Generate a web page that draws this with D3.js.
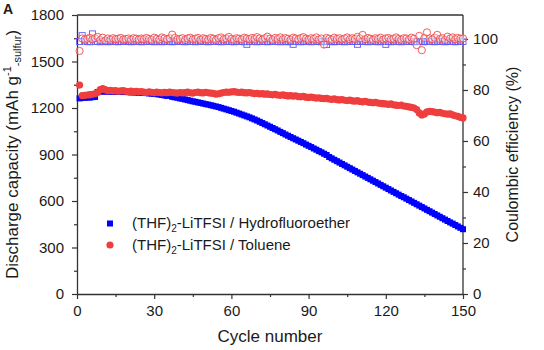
<!DOCTYPE html>
<html><head><meta charset="utf-8">
<script src="https://cdn.jsdelivr.net/npm/d3@7"></script>
<style>
body{margin:0;background:#fff;}
text{font-family:Arial,"Liberation Sans",sans-serif;fill:#1a1a1a;}
</style></head>
<body><svg id="c" width="544" height="350"></svg>
<script>
const cycles = [1,2,3,4,5,6,7,8,9,10,11,12,13,14,15,16,17,18,19,20,21,22,23,24,25,26,27,28,29,30,31,32,33,34,35,36,37,38,39,40,41,42,43,44,45,46,47,48,49,50,51,52,53,54,55,56,57,58,59,60,61,62,63,64,65,66,67,68,69,70,71,72,73,74,75,76,77,78,79,80,81,82,83,84,85,86,87,88,89,90,91,92,93,94,95,96,97,98,99,100,101,102,103,104,105,106,107,108,109,110,111,112,113,114,115,116,117,118,119,120,121,122,123,124,125,126,127,128,129,130,131,132,133,134,135,136,137,138,139,140,141,142,143,144,145,146,147,148,149,150];

const hfeCapacity = [1262,1265,1266,1268,1267,1270,1271,1303,1306,1307,
1306,1305,1306,1305,1304,1305,1304,1303,1303,1302,
1301,1301,1300,1299,1298,1297,1296,1294,1293,1291,
1289,1287,1284,1281,1278,1284,1272,1269,1266,1262,
1259,1255,1251,1247,1243,1240,1236,1233,1229,1225,
1222,1218,1214,1210,1206,1201,1196,1191,1186,1181,
1176,1170,1164,1158,1152,1146,1140,1133,1126,1119,
1111,1103,1095,1087,1079,1071,1063,1055,1046,1038,
1029,1021,1013,1005,997,989,981,973,964,956,
948,939,931,922,914,905,897,884,875,866,
857,848,839,830,821,812,803,794,785,776,
767,758,749,740,731,722,713,704,695,686,
677,668,659,650,641,632,624,615,606,597,
588,579,570,561,552,543,534,525,516,507,
498,489,480,471,462,454,445,436,427,418];

const tolCapacity = [1348,1280,1282,1284,1286,1288,1292,1300,1318,1325,
1318,1312,1314,1310,1312,1308,1310,1312,1308,1306,
1309,1305,1308,1304,1306,1302,1300,1304,1301,1298,
1302,1300,1297,1301,1299,1303,1300,1298,1296,1300,
1297,1299,1302,1298,1296,1300,1303,1299,1297,1301,
1298,1296,1294,1290,1292,1296,1300,1303,1301,1304,
1306,1303,1300,1302,1299,1297,1300,1296,1293,1295,
1291,1293,1289,1291,1287,1285,1288,1284,1282,1285,
1281,1278,1280,1276,1279,1274,1272,1275,1270,1268,
1271,1267,1264,1266,1262,1260,1263,1258,1256,1259,
1254,1252,1255,1250,1248,1251,1246,1244,1247,1242,
1240,1243,1238,1236,1234,1237,1232,1230,1228,1226,
1224,1226,1221,1218,1216,1219,1213,1210,1207,1204,
1200,1190,1168,1155,1162,1175,1178,1176,1173,1170,
1172,1166,1163,1160,1162,1156,1150,1146,1140,1136];

const hfeCE = [99.0,101.3,99.2,99.0,98.9,102.0,99.1,99.0,98.9,99.1,
99.0,98.9,99.1,99.0,99.0,98.9,99.1,99.0,99.2,99.0,
98.9,99.0,99.1,99.0,98.9,99.0,99.1,99.0,99.0,98.9,
99.1,99.0,98.9,99.0,99.1,99.0,98.9,99.0,99.1,99.0,
99.0,98.9,99.1,99.0,99.0,98.9,99.1,99.0,99.0,99.1,
98.9,99.0,99.0,99.1,99.0,98.9,99.0,99.1,99.0,99.0,
98.9,99.0,99.1,99.0,98.9,97.9,99.0,99.1,99.0,98.9,
99.0,99.1,99.0,98.9,99.0,99.1,99.0,99.0,98.9,99.1,
99.0,98.9,99.0,97.9,99.1,99.0,98.9,99.0,99.1,99.0,
98.9,99.0,99.1,99.0,98.9,99.0,97.8,99.1,99.0,98.9,
99.0,99.1,99.0,98.9,99.0,99.1,99.0,99.0,97.9,99.0,
99.1,99.0,98.9,99.0,99.1,99.0,98.9,99.0,99.1,97.9,
99.0,98.9,99.1,99.0,99.0,98.9,99.1,99.0,99.0,99.1,
98.9,99.0,99.1,99.0,98.9,99.0,99.1,99.0,98.9,99.0,
99.1,99.0,98.9,99.0,99.1,99.0,98.9,99.0,99.1,99.0];

const tolCE = [95.3,100.2,99.8,100.1,100.4,99.9,100.3,100.8,99.6,100.5,
99.4,100.2,99.7,100.3,99.9,100.1,100.4,99.8,100.0,100.2,
99.7,100.3,100.1,99.8,100.2,99.9,100.4,100.0,99.7,100.5,
100.1,99.8,100.6,100.2,99.9,100.3,101.7,100.4,99.8,100.0,
100.3,99.6,100.2,100.5,99.9,100.1,100.4,99.7,100.3,100.0,
99.8,100.4,100.1,99.7,100.3,100.6,99.9,100.2,100.8,100.0,
99.7,100.3,100.1,99.8,100.5,100.2,99.9,100.4,100.0,100.7,
100.2,99.8,100.3,100.9,100.1,99.7,100.4,100.0,100.6,99.9,
100.3,100.1,99.7,100.5,100.2,99.9,100.4,100.7,100.1,99.8,
100.3,100.0,100.6,99.8,100.2,97.8,100.4,100.1,99.7,100.5,
100.0,100.3,99.8,100.2,100.6,99.9,100.3,100.0,100.8,100.2,
101.6,99.9,100.4,100.1,99.7,100.3,100.0,100.5,99.8,100.2,
100.4,99.9,100.1,100.6,100.0,99.7,100.3,100.2,99.8,100.5,
100.1,97.6,101.2,95.6,100.4,102.6,100.2,99.8,100.5,101.6,
100.0,100.3,99.6,100.9,100.2,100.6,99.9,100.4,100.1,100.2];

const xTicks = [0,30,60,90,120,150];
const xMinor = [15,45,75,105,135];
const capTicks = [0,300,600,900,1200,1500,1800];
const capMinor = [150,450,750,1050,1350,1650];
const ceTicks = [0,20,40,60,80,100];
const ceMinor = [10,30,50,70,90];

const svg = d3.select("#c");
const L = 77, R = 463, T = 15, B = 294;
const x = d3.scaleLinear().domain([0,150]).range([L,R]);
const yL = d3.scaleLinear().domain([0,1800]).range([B,T]);
const yR = d3.scaleLinear().domain([0,109.4]).range([B,T]);
const fmt = d3.format("d");

const axisColor = "#333";
function styleAxis(g){
  g.select(".domain").attr("stroke",axisColor).attr("stroke-width",1.3);
  g.selectAll(".tick line").attr("stroke",axisColor).attr("stroke-width",1.2);
  g.selectAll(".tick text").style("font-size","15px").attr("fill","#1a1a1a");
}
function styleMinor(g){
  g.select(".domain").remove();
  g.selectAll("line").attr("stroke",axisColor).attr("stroke-width",1.2);
}
svg.append("line").attr("x1",L).attr("x2",R).attr("y1",T).attr("y2",T).attr("stroke",axisColor).attr("stroke-width",1.3);

const gx = svg.append("g").attr("transform",`translate(0,${B})`)
  .call(d3.axisBottom(x).tickValues(xTicks).tickFormat(fmt).tickSize(5).tickPadding(6).tickSizeOuter(0));
styleAxis(gx);
svg.append("g").attr("transform",`translate(0,${B})`)
  .call(d3.axisBottom(x).tickValues(xMinor).tickSize(3).tickFormat("").tickSizeOuter(0)).call(styleMinor);

const gl = svg.append("g").attr("transform",`translate(${L},0)`)
  .call(d3.axisLeft(yL).tickValues(capTicks).tickFormat(fmt).tickSize(5).tickPadding(8).tickSizeOuter(0));
styleAxis(gl);
svg.append("g").attr("transform",`translate(${L},0)`)
  .call(d3.axisLeft(yL).tickValues(capMinor).tickSize(3).tickFormat("").tickSizeOuter(0)).call(styleMinor);

const gr = svg.append("g").attr("transform",`translate(${R},0)`)
  .call(d3.axisRight(yR).tickValues(ceTicks).tickFormat(fmt).tickSize(5).tickPadding(5).tickSizeOuter(0));
styleAxis(gr);
gr.select(".domain").attr("d",`M0,${B}V${T}`);
svg.append("g").attr("transform",`translate(${R},0)`)
  .call(d3.axisRight(yR).tickValues(ceMinor).tickSize(3).tickFormat("").tickSizeOuter(0)).call(styleMinor);

const blue = "#0000ff", red = "#ef3e3e";
const sq = 6, rc = 3.6;

svg.append("g").selectAll("rect").data(cycles).join("rect")
  .attr("x",c=>x(c)-sq/2).attr("y",(c,i)=>yR(hfeCE[i])-sq/2)
  .attr("width",sq).attr("height",sq).attr("fill","none").attr("stroke","#5a5aff").attr("stroke-width",0.9);
svg.append("g").selectAll("circle").data(cycles).join("circle")
  .attr("cx",c=>x(c)).attr("cy",(c,i)=>yR(tolCE[i])).attr("r",rc)
  .attr("fill","#fff").attr("fill-opacity",0.35).attr("stroke","#f04848").attr("stroke-width",0.9);

svg.append("g").selectAll("rect").data(cycles).join("rect")
  .attr("x",c=>x(c)-sq/2).attr("y",(c,i)=>yL(hfeCapacity[i])-sq/2)
  .attr("width",sq).attr("height",sq).attr("fill",blue);
svg.append("g").selectAll("circle").data(cycles).join("circle")
  .attr("cx",c=>x(c)).attr("cy",(c,i)=>yL(tolCapacity[i])).attr("r",rc)
  .attr("fill",red);

svg.append("rect").attr("x",107).attr("y",220.5).attr("width",6).attr("height",6).attr("fill",blue);
svg.append("circle").attr("cx",110).attr("cy",245).attr("r",3.6).attr("fill",red);
const lt1 = svg.append("text").attr("x",132).attr("y",228).style("font-size","15px");
lt1.append("tspan").text("(THF)");
lt1.append("tspan").text("2").style("font-size","10px").attr("dy",4);
lt1.append("tspan").text("-LiTFSI / Hydrofluoroether").attr("dy",-4);
const lt2 = svg.append("text").attr("x",132).attr("y",250).style("font-size","15px");
lt2.append("tspan").text("(THF)");
lt2.append("tspan").text("2").style("font-size","10px").attr("dy",4);
lt2.append("tspan").text("-LiTFSI / Toluene").attr("dy",-4);

svg.append("text").attr("x",(L+R)/2).attr("y",342).attr("text-anchor","middle").style("font-size","17px").text("Cycle number");
const ylab = svg.append("text").attr("transform",`translate(18,${(T+B)/2}) rotate(-90)`).attr("text-anchor","middle").style("font-size","17px");
ylab.append("tspan").text("Discharge capacity (mAh g");
ylab.append("tspan").text("-1").style("font-size","11px").attr("dy",-7);
ylab.append("tspan").text("-sulfur").style("font-size","11px").attr("dy",10);
ylab.append("tspan").text(")").attr("dy",-3);
svg.append("text").attr("transform",`translate(518,${(T+B)/2}) rotate(-90)`).attr("text-anchor","middle").style("font-size","16px").text("Coulombic efficiency (%)");

svg.append("text").attr("x",3).attr("y",14).style("font-size","14px").style("font-weight","bold").text("A");
</script></body></html>
